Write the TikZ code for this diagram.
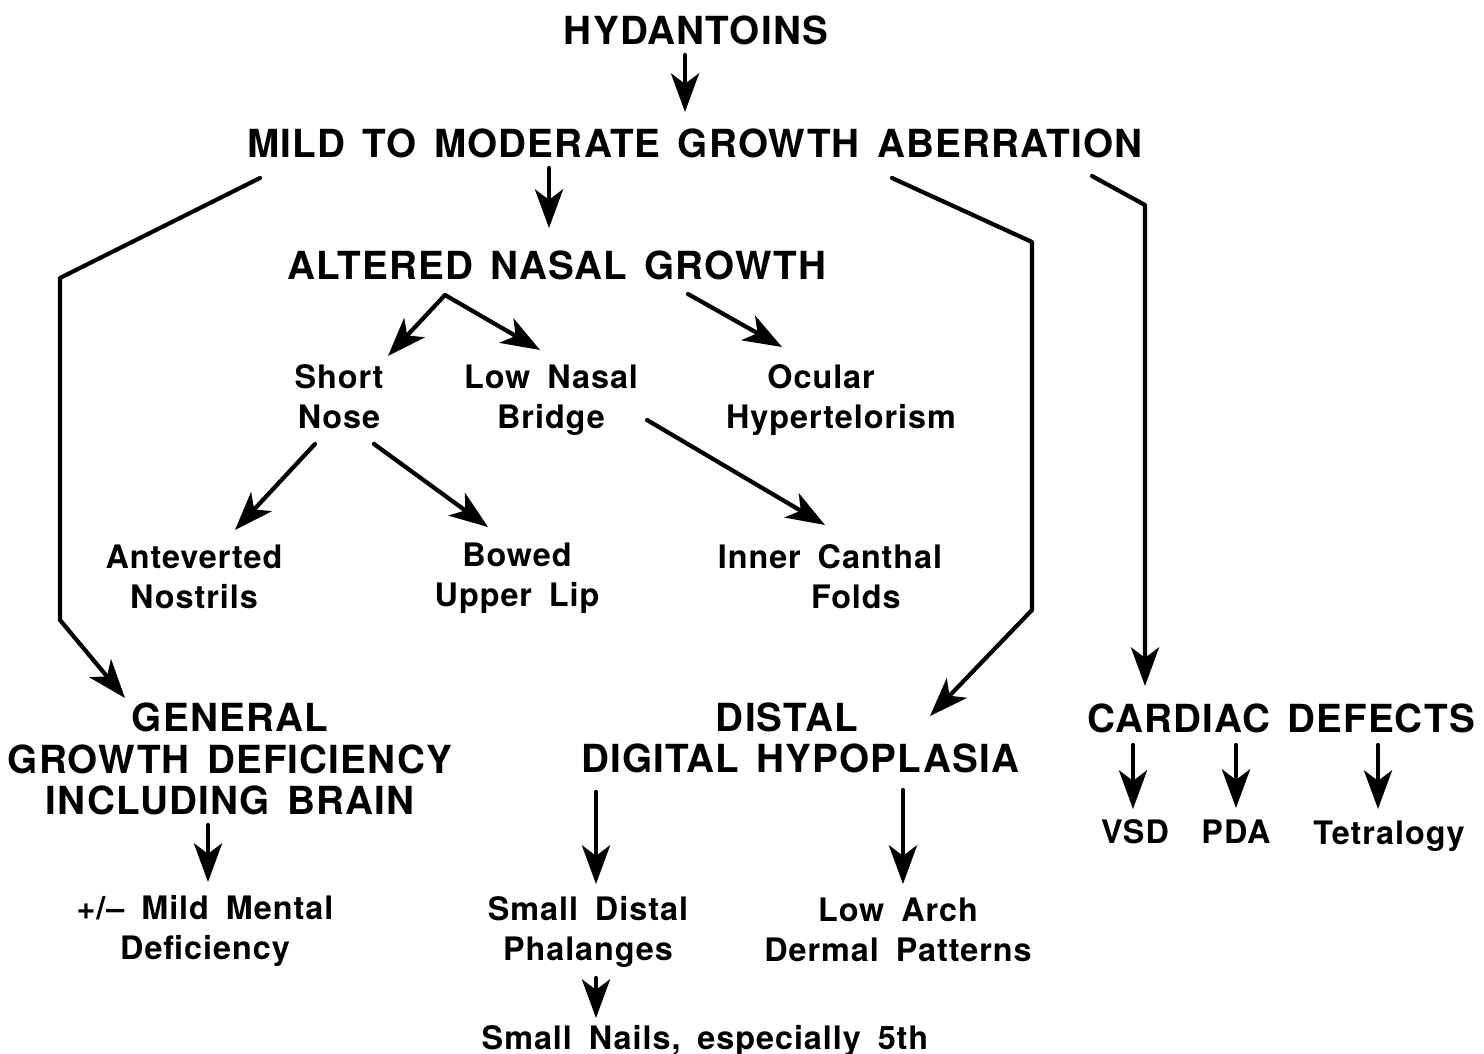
\documentclass[tikz,border=0pt]{standalone}
\usepackage{fontspec}
\setsansfont{TeX Gyre Heros}[LetterSpace=3,WordSpace=1.7]
\newfontfamily\capsfont{TeX Gyre Heros}[LetterSpace=3,WordSpace=1.45]
\usetikzlibrary{calc,arrows.meta}

\begin{document}
\begin{tikzpicture}[x=0.01cm,y=-0.01cm,
	every node/.style={align=center,inner sep=0pt},
	big/.style={font=\capsfont\bfseries\fontsize{11}{11.8}\selectfont},
	small/.style={font=\sffamily\bfseries\fontsize{9.2}{11.3}\selectfont},
	arr/.style={-{Stealth[length=11pt,width=8pt,inset=3pt]},line width=1.2pt,line cap=round,line join=round}]

\useasboundingbox (0,0) rectangle (1484,1054);

% titles
\node[big] (hyd) at (696,30) {HYDANTOINS};
\node[big] (mild) at (695,143) {MILD TO MODERATE GROWTH ABERRATION};
\node[big] (nasal) at (557,265) {ALTERED NASAL GROWTH};
\node[big] (general) at (230,759) {GENERAL\\GROWTH DEFICIENCY\\INCLUDING BRAIN};
\node[big] (distal) at (800,738) {DISTAL\hspace*{7.4pt}\\DIGITAL HYPOPLASIA};
\node[big] (cardiac) at (1281,718) {CARDIAC DEFECTS};

% features
\node[small] (short) at (339,397) {Short\\Nose};
\node[small] (bridge) at (551,400) {Low Nasal\\Bridge};
\node[small] (ocular) at (841,400) {Ocular\hspace*{11.3pt}\\Hypertelorism};
\node[small] (nostrils) at (194,577) {Anteverted\\Nostrils};
\node[small] (lip) at (517,578) {Bowed\\Upper Lip};
\node[small] (canthal) at (830,577) {Inner Canthal\\\hspace*{14.7pt}Folds};
\node[small] (mental) at (205,931) {+/– Mild Mental\\Deficiency};
\node[small] (phal) at (588,932) {Small Distal\\Phalanges};
\node[small] (arch) at (898,930) {Low Arch\\Dermal Patterns};
\node[small] (nails) at (705,1041) {Small Nails, especially 5th};
\node[small] (vsd) at (1135,832) {VSD};
\node[small] (pda) at (1236,832) {PDA};
\node[small] (tet) at (1389,836) {Tetralogy};

\coordinate (l1) at (60,278);
\coordinate (l2) at (60,620);
\coordinate (r1) at (1032,242);
\coordinate (r2) at (1032,610);
\coordinate (c1) at (1145,205);

\draw[arr] ($(hyd)+(-11,25)$) -- ($(mild)+(-10,-31)$);
\draw[arr] ($(mild)+(-435,35)$) -- (l1) -- (l2) -- ($(general)+(-105,-61)$);
\draw[arr] ($(mild)+(-146,25)$) -- ($(nasal)+(-8,-37)$);
\draw[arr] ($(mild)+(197,35)$) -- (r1) -- (r2) -- ($(distal)+(130,-22)$);
\draw[arr] ($(mild)+(397,33)$) -- (c1) -- ($(cardiac)+(-136,-32)$);

\draw[arr] ($(nasal)+(-112,30)$) -- ($(short)+(49,-41)$);
\draw[arr] ($(nasal)+(-112,30)$) -- ($(bridge)+(-11,-50)$);
\draw[arr] ($(nasal)+(131,29)$) -- ($(ocular)+(-59,-53)$);
\draw[arr] ($(short)+(-24,47)$) -- ($(nostrils)+(41,-47)$);
\draw[arr] ($(short)+(35,47)$) -- ($(lip)+(-29,-51)$);
\draw[arr] ($(bridge)+(96,20)$) -- ($(canthal)+(-5,-52)$);

\draw[arr] ($(general)+(-22,66)$) -- ($(mental)+(3,-49)$);
\draw[arr] ($(distal)+(-204,54)$) -- ($(phal)+(8,-48)$);
\draw[arr] ($(distal)+(103,52)$) -- ($(arch)+(5,-46)$);
\draw[arr] ($(phal)+(8,46)$) -- ($(nails)+(-109,-23)$);

\foreach \n/\a/\b/\c in {vsd/-148/-2/-23,pda/-45/0/-24,tet/97/-11/-27}{
	\draw[arr] ($(cardiac)+(\a,27)$) -- ($(\n)+(\b,\c)$);
}

\end{tikzpicture}
\end{document}
